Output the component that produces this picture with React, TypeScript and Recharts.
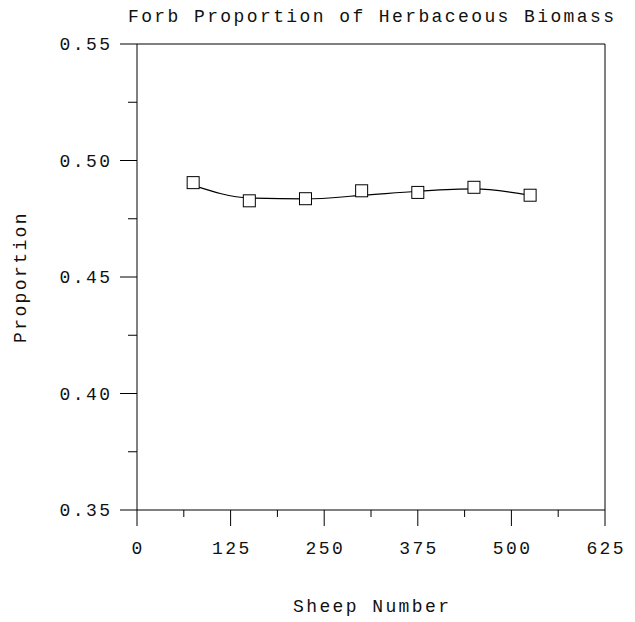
import { LineChart, Line, XAxis, YAxis, ReferenceLine } from 'recharts'

// ── Data ──────────────────────────────────────────────────────────────────────

const sheepNumber = [75, 150, 225, 300, 375, 450, 525]
// observed means (open squares)
const forbProportion = [0.4905, 0.4827, 0.4836, 0.487, 0.4863, 0.4885, 0.4851]
// smoothed curve drawn through the points at the same x
const smoothedFit = [0.4893, 0.4839, 0.4835, 0.485, 0.4868, 0.4878, 0.485]

const xTicks = [0, 62.5, 125, 187.5, 250, 312.5, 375, 437.5, 500, 562.5, 625]
const yTicks = [0.35, 0.375, 0.4, 0.425, 0.45, 0.475, 0.5, 0.525, 0.55]

const data = sheepNumber.map((x, i) => ({ x, y: forbProportion[i], fit: smoothedFit[i] }))

// ── Style ─────────────────────────────────────────────────────────────────────

const FONT = '"Liberation Mono", "DejaVu Sans Mono", monospace'
const FONT_SIZE = 18
const SPACING = 2.4
const INK = '#111'

// ── Ticks ─────────────────────────────────────────────────────────────────────

function XTick({ x, y, payload, index }: any) {
  const major = index % 2 === 0
  return (
    <g>
      <line x1={x} x2={x} y1={y} y2={y + (major ? 16 : 7)} stroke="#000" />
      {major && (
        <text
          x={x + SPACING / 2}
          y={y + 44}
          textAnchor="middle"
          fontFamily={FONT}
          fontSize={FONT_SIZE}
          letterSpacing={SPACING}
          fill={INK}
        >
          {payload.value}
        </text>
      )}
    </g>
  )
}

function YTick({ x, y, payload, index }: any) {
  const major = index % 2 === 0
  return (
    <g>
      <line x1={x} x2={x - (major ? 17 : 9)} y1={y} y2={y} stroke="#000" />
      {major && (
        <text
          x={x - 27 + SPACING}
          y={y}
          dy="0.35em"
          textAnchor="end"
          fontFamily={FONT}
          fontSize={FONT_SIZE}
          letterSpacing={SPACING}
          fill={INK}
        >
          {Number(payload.value).toFixed(2)}
        </text>
      )}
    </g>
  )
}

function SquareDot({ cx, cy, index }: any) {
  return (
    <rect key={index} x={cx - 6} y={cy - 6} width={12} height={12} fill="#fff" stroke="#000" />
  )
}

// ── App ───────────────────────────────────────────────────────────────────────

export default function App() {
  return (
    <div style={{ position: 'relative', width: 635, height: 622 }}>
      <style>{`body { margin: 0; }`}</style>
      <svg width={635} height={40} style={{ position: 'absolute', left: 0, top: 0 }}>
        <text
          x={371 + SPACING / 2}
          y={22}
          textAnchor="middle"
          fontFamily={FONT}
          fontSize={FONT_SIZE}
          letterSpacing={SPACING}
          fill={INK}
        >
          Forb Proportion of Herbaceous Biomass
        </text>
      </svg>
      <LineChart
        width={635}
        height={622}
        data={data}
        margin={{ top: 44, right: 30, bottom: 0, left: 0 }}
      >
        <XAxis
          type="number"
          dataKey="x"
          domain={[0, 625]}
          ticks={xTicks}
          interval={0}
          height={112}
          tickSize={0}
          tickMargin={0}
          tickLine={false}
          axisLine={{ stroke: '#000' }}
          tick={(p: any) => <XTick {...p} />}
          label={{
            content: ({ viewBox }: any) => (
              <text
                x={viewBox.x + viewBox.width / 2 + SPACING / 2}
                y={612}
                textAnchor="middle"
                fontFamily={FONT}
                fontSize={FONT_SIZE}
                letterSpacing={SPACING}
                fill={INK}
              >
                Sheep Number
              </text>
            ),
          }}
        />
        <YAxis
          type="number"
          domain={[0.35, 0.55]}
          ticks={yTicks}
          interval={0}
          width={137}
          tickSize={0}
          tickMargin={0}
          tickLine={false}
          axisLine={{ stroke: '#000' }}
          allowDataOverflow
          tick={(p: any) => <YTick {...p} />}
          label={{
            content: ({ viewBox }: any) => {
              const cy = viewBox.y + viewBox.height / 2
              return (
                <text
                  x={20}
                  y={cy + SPACING / 2}
                  transform={`rotate(-90, 20, ${cy})`}
                  textAnchor="middle"
                  dominantBaseline="central"
                  fontFamily={FONT}
                  fontSize={FONT_SIZE}
                  letterSpacing={SPACING}
                  fill={INK}
                >
                  Proportion
                </text>
              )
            },
          }}
        />
        <ReferenceLine y={0.55} stroke="#000" />
        <ReferenceLine x={625} stroke="#000" />
        <Line
          type="monotone"
          dataKey="fit"
          stroke="#000"
          strokeWidth={1.2}
          dot={false}
          activeDot={false}
          isAnimationActive={false}
        />
        <Line
          type="linear"
          dataKey="y"
          stroke="none"
          dot={(p: any) => <SquareDot {...p} />}
          activeDot={false}
          isAnimationActive={false}
        />
      </LineChart>
    </div>
  )
}
